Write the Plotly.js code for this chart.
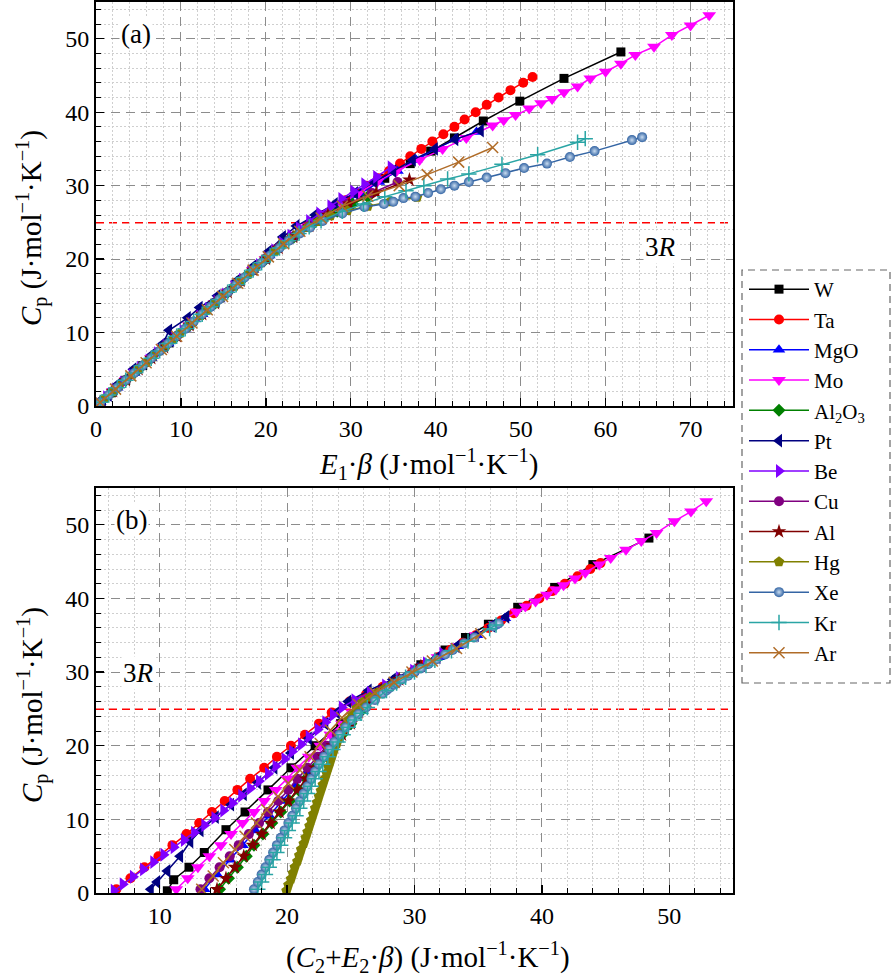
<!DOCTYPE html>
<html>
<head>
<meta charset="utf-8">
<script src="https://cdn.plot.ly/plotly-3.0.1.min.js"></script>
<style>html,body{margin:0;padding:0;background:#fff;}#chart{width:892px;height:980px;}</style>
</head>
<body>
<div id="chart"></div>
<script>
// ---------------- data (Cp, panel-a abscissa E1·β, panel-b abscissa C2+E2·β) ----------------
const W_cp = [0.3, 1.8, 3.5, 5.5, 8.6, 11, 14, 17, 20, 23, 25, 27, 29, 31, 33, 34.7, 36.5, 38.8, 41.5, 44.6, 48.2];
const W_xa = [0.3, 1.8, 3.5, 5.5, 8.6, 11, 14, 17, 20, 23.2, 25.5, 28, 31, 34, 37, 39.4, 42.2, 45.6, 49.9, 55.1, 61.8];
const W_xb = [10.6, 11.1, 12.3, 13.5, 15.2, 16.7, 18.5, 20.3, 22.2, 24.2, 25.6, 26.8, 28.6, 30.5, 32.4, 34.0, 35.8, 38.1, 41.0, 44.0, 48.4];

const Ta_cp = [0.5, 2, 3.5, 5, 6.5, 8, 9.5, 11, 12.5, 14, 15.5, 17, 18.5, 20, 21.5, 23, 24.5, 26, 27, 28, 29, 30, 31, 32, 33, 34, 35, 36, 37, 38, 39, 40, 41, 42, 43, 44, 44.8];
const Ta_xa = [0.5, 2, 3.5, 5, 6.5, 8, 9.5, 11, 12.5, 14, 15.5, 17, 18.5, 20, 21.4, 23.1, 24.8, 26.8, 28.1, 29.4, 30.6, 31.9, 33.2, 34.5, 35.8, 37.0, 38.3, 39.6, 40.9, 42.2, 43.4, 44.7, 46.0, 47.4, 48.8, 50.3, 51.4];
const Ta_xb = [6.6, 7.7, 8.8, 9.9, 11.0, 12.1, 13.1, 14.1, 15.1, 16.1, 17.1, 18.2, 19.2, 20.3, 21.4, 22.5, 23.5, 24.9, 26.2, 27.5, 28.7, 29.8, 30.8, 31.8, 32.8, 33.8, 34.8, 35.8, 36.8, 37.8, 38.8, 39.8, 40.8, 41.8, 42.8, 43.8, 44.6];

const MgO_cp = [0.5, 2.5, 4.5, 6.5, 8.5, 10.5, 12.5, 14.5, 16.5, 18.5, 20.5, 22.5, 24.5, 26, 27.5, 29, 30.5, 32, 33.5, 35, 36.3, 37.3];
const MgO_xa = [0.5, 2.5, 4.5, 6.5, 8.5, 10.5, 12.5, 14.5, 16.5, 18.5, 20.4, 22.6, 25.0, 27.0, 29.1, 31.2, 33.3, 35.5, 37.7, 40.0, 42.3, 44.8];
const MgO_xb = [13.5, 14.5, 15.5, 16.5, 17.5, 18.6, 19.6, 20.6, 21.6, 22.6, 23.6, 24.6, 25.5, 26.3, 27.5, 28.9, 30.4, 31.9, 33.4, 34.9, 36.2, 37.1];

const Mo_cp = [0.5, 2, 3.5, 5, 6.5, 8, 9.5, 11, 12.5, 14, 15.5, 17, 18.5, 20, 21.5, 23, 24.5, 26, 27.5, 29, 30.5, 32, 33.5, 35, 36.5, 38.2, 38.9, 39.6, 40.5, 41.2, 41.8, 42.7, 43.5, 44.6, 45.5, 46.6, 47.8, 48.9, 50.5, 51.8, 53.2];
const Mo_xa = [0.5, 2, 3.5, 5, 6.5, 8, 9.5, 11, 12.5, 14, 15.5, 17, 18.5, 20, 21.4, 23.2, 24.9, 26.9, 28.9, 30.9, 33.1, 35.4, 38.1, 40.8, 43.6, 46.7, 48.0, 49.4, 51.0, 52.4, 53.7, 55.1, 56.7, 58.2, 60.0, 61.8, 63.5, 65.7, 67.8, 70.0, 72.2];
const Mo_xb = [11.3, 12.2, 13.0, 13.9, 14.8, 15.6, 16.5, 17.4, 18.2, 19.1, 20.0, 20.8, 21.7, 22.6, 23.4, 24.3, 25.1, 26.1, 27.4, 28.8, 30.3, 31.8, 33.3, 34.8, 36.3, 38.0, 38.7, 39.5, 40.4, 41.1, 41.7, 42.6, 43.4, 44.5, 45.4, 46.6, 47.8, 49.0, 50.4, 51.7, 52.9];

const Al2O3_cp = [0.5, 2, 3.5, 5, 6.5, 8, 9.5, 11, 12.5, 14, 15.5, 17, 18.5, 20, 21.5, 23, 24.5, 25.5, 26.5, 27.5, 28.5];
const Al2O3_xa = [0.5, 2, 3.5, 5, 6.5, 8, 9.5, 11, 12.5, 14, 15.5, 17, 18.5, 20, 21.5, 23.3, 25.3, 26.8, 28.4, 30.2, 32.0];
const Al2O3_xb = [14.7, 15.4, 16.1, 16.8, 17.4, 18.1, 18.8, 19.5, 20.2, 20.9, 21.5, 22.2, 22.9, 23.6, 24.3, 25.0, 25.7, 26.1, 26.7, 27.5, 28.4];

const Pt_cp = [0.5, 1.5, 3, 5, 7, 8.5, 10.3, 12, 13.4, 15, 17, 19, 21, 23, 24.5, 26, 27.5, 29, 30.5, 32, 33.5, 35, 36.3, 37.5];
const Pt_xa = [0.8, 1.5, 2.6, 4.4, 6.6, 7.9, 8.6, 10.8, 12.2, 14.3, 16.5, 18.5, 20.3, 22.0, 23.6, 25.8, 28.1, 30.5, 32.8, 35.0, 37.3, 39.9, 42.3, 45.3];
const Pt_xb = [9.3, 9.8, 10.6, 11.6, 12.4, 13.2, 14.4, 15.6, 16.6, 17.7, 19.0, 20.3, 21.7, 23.0, 23.9, 24.8, 26.4, 28.3, 30.1, 31.8, 33.3, 34.8, 36.1, 37.2];

const Be_cp = [0.3, 1.2, 2.2, 3.2, 4.2, 5.2, 6.2, 7.2, 8.2, 9.2, 10.2, 11.2, 12.2, 13.2, 14.2, 15.2, 16.2, 17.2, 18.2, 19.2, 20.2, 21.2, 22.2, 23.2, 24.2, 25.2, 26.2, 27.2, 28.2, 29.2, 30.2, 31.2, 32.5];
const Be_xa = [0.3, 1.2, 2.2, 3.2, 4.2, 5.2, 6.2, 7.2, 8.2, 9.2, 10.2, 11.2, 12.2, 13.2, 14.2, 15.2, 16.2, 17.2, 18.2, 19.2, 20.1, 21.0, 21.9, 22.9, 23.9, 25.1, 26.3, 27.6, 28.9, 30.3, 31.6, 33.0, 34.7];
const Be_xb = [6.4, 7.1, 7.9, 8.7, 9.5, 10.3, 11.1, 11.9, 12.7, 13.5, 14.3, 15.0, 15.7, 16.4, 17.1, 17.8, 18.5, 19.1, 19.8, 20.4, 21.1, 21.7, 22.4, 23.0, 23.6, 24.3, 25.3, 26.5, 27.7, 28.8, 29.9, 30.9, 32.2];

const Cu_cp = [0.5, 2, 3.5, 5, 6.5, 8, 9.5, 11, 12.5, 14, 15.5, 17, 18.5, 20, 21.5, 23, 24.5, 26, 27.5, 29, 30.5];
const Cu_xa = [0.5, 2, 3.5, 5, 6.5, 8, 9.5, 11, 12.5, 14, 15.5, 17, 18.5, 20, 21.5, 23.2, 25.1, 27.3, 29.6, 32.5, 35.5];
const Cu_xb = [13.2, 13.9, 14.7, 15.5, 16.2, 17.0, 17.8, 18.5, 19.3, 20.1, 20.8, 21.6, 22.4, 23.1, 23.9, 24.7, 25.4, 26.2, 27.4, 28.8, 30.3];

const Al_cp = [0.5, 2, 3.5, 5, 6.5, 8, 9.5, 11, 12.5, 14, 15.5, 17, 18.5, 20, 21.5, 23, 24.5, 26, 27.5, 29, 30.8];
const Al_xa = [0.5, 2, 3.5, 5, 6.5, 8, 9.5, 11, 12.5, 14, 15.5, 17, 18.5, 20, 21.5, 23.2, 25.1, 27.3, 29.8, 33.0, 36.9];
const Al_xb = [14.5, 15.2, 15.9, 16.6, 17.3, 18.0, 18.7, 19.4, 20.1, 20.8, 21.5, 22.2, 22.9, 23.6, 24.3, 25.0, 25.6, 26.3, 27.4, 28.8, 30.5];

const Hg_cp = [0.3, 1.1, 1.9, 2.7, 3.5, 4.3, 5.1, 5.9, 6.7, 7.5, 8.3, 9.1, 9.9, 10.7, 11.5, 12.3, 13.1, 13.9, 14.7, 15.5, 16.3, 17.1, 17.9, 18.7, 19.5, 20.3, 21.1, 21.9, 22.7, 23.5, 24.3, 25.1, 25.9, 26.6, 27.2, 27.8, 28.4];
const Hg_xa = [0.3, 1.1, 1.9, 2.7, 3.5, 4.3, 5.1, 5.9, 6.7, 7.5, 8.3, 9.1, 9.9, 10.7, 11.5, 12.3, 13.1, 13.9, 14.7, 15.5, 16.3, 17.1, 17.9, 18.7, 19.5, 20.3, 21.1, 21.9, 22.8, 23.8, 24.9, 26.1, 27.6, 29.6, 32.0, 34.6, 37.8];
const Hg_xb = [19.95, 20.1, 20.3, 20.45, 20.6, 20.8, 20.95, 21.1, 21.3, 21.45, 21.6, 21.75, 21.9, 22.05, 22.2, 22.35, 22.5, 22.65, 22.8, 22.95, 23.1, 23.25, 23.4, 23.55, 23.7, 23.9, 24.1, 24.3, 24.55, 24.8, 25.1, 25.45, 25.9, 26.5, 27.1, 27.7, 28.3];

const Xe_cp = [0.5, 1.5, 2.5, 3.5, 4.5, 5.5, 6.5, 7.5, 8.5, 9.5, 10.5, 11.5, 12.5, 13.5, 14.5, 15.5, 16.5, 17.5, 18.5, 19.5, 20.5, 21.5, 22.5, 23.5, 24.3, 25.2, 26.2, 27.1, 27.5, 27.8, 28.3, 28.5, 29.0, 29.5, 30.0, 30.5, 31.1, 31.7, 32.4, 33.0, 33.9, 34.7, 36.2, 36.6];
const Xe_xa = [0.5, 1.5, 2.5, 3.5, 4.5, 5.5, 6.5, 7.5, 8.5, 9.5, 10.5, 11.5, 12.5, 13.5, 14.5, 15.5, 16.5, 17.5, 18.5, 19.5, 20.5, 21.6, 22.7, 24.0, 25.2, 26.7, 29.0, 31.6, 33.9, 35.0, 36.2, 37.6, 39.1, 40.6, 42.2, 43.9, 46.0, 48.2, 50.4, 53.1, 55.8, 58.7, 63.1, 64.3];
const Xe_xb = [17.4, 17.7, 18.0, 18.3, 18.6, 18.9, 19.2, 19.5, 19.8, 20.1, 20.4, 20.7, 21.0, 21.3, 21.6, 21.9, 22.2, 22.5, 22.9, 23.3, 23.7, 24.1, 24.6, 25.1, 25.6, 26.2, 26.9, 27.5, 27.8, 28.0, 28.4, 28.6, 29.0, 29.5, 30.0, 30.5, 31.1, 31.7, 32.4, 33.0, 33.9, 34.7, 36.2, 36.6];

const Kr_cp = [0.5, 1.5, 2.5, 3.5, 4.5, 5.5, 6.5, 7.5, 8.5, 9.5, 10.5, 11.5, 12.5, 13.5, 14.5, 15.5, 16.5, 17.5, 18.5, 19.5, 20.5, 21.5, 22.5, 23.5, 24.4, 25.2, 26.5, 27.5, 28.5, 29.3, 30.0, 30.9, 31.6, 32.9, 34.2, 35.9, 36.4];
const Kr_xa = [0.5, 1.5, 2.5, 3.5, 4.5, 5.5, 6.5, 7.5, 8.5, 9.5, 10.5, 11.5, 12.5, 13.5, 14.5, 15.5, 16.5, 17.5, 18.5, 19.5, 20.5, 21.6, 22.7, 23.9, 25.1, 26.5, 29.0, 31.5, 34.0, 36.5, 38.6, 41.4, 43.9, 47.8, 52.0, 56.7, 57.6];
const Kr_xb = [17.7, 18.0, 18.3, 18.6, 18.9, 19.2, 19.5, 19.8, 20.1, 20.4, 20.7, 21.0, 21.3, 21.6, 21.9, 22.2, 22.5, 22.8, 23.2, 23.6, 24.0, 24.4, 24.8, 25.3, 25.8, 26.3, 27.1, 27.8, 28.6, 29.3, 30.0, 30.9, 31.6, 32.9, 34.2, 35.9, 36.4];

const Ar_cp = [0.5, 2.3, 4.1, 5.9, 7.7, 9.5, 11.3, 13.1, 14.9, 16.7, 18.5, 20.3, 22.1, 23.8, 25.6, 27.2, 28.6, 30.0, 31.5, 33.2, 35.2];
const Ar_xa = [0.5, 2.3, 4.1, 5.9, 7.7, 9.5, 11.3, 13.1, 14.9, 16.7, 18.5, 20.3, 22.1, 24.0, 26.5, 29.0, 32.0, 35.7, 39.0, 42.7, 46.7];
const Ar_xb = [13.3, 14.2, 15.0, 15.9, 16.7, 17.6, 18.4, 19.3, 20.1, 21.0, 21.8, 22.6, 23.4, 24.3, 25.6, 26.9, 28.4, 29.8, 31.4, 33.3, 35.2];

const names = ['W', 'Ta', 'MgO', 'Mo', 'Al<sub>2</sub>O<sub>3</sub>', 'Pt', 'Be', 'Cu', 'Al', 'Hg', 'Xe', 'Kr', 'Ar'];
const threeR = 24.94;

// ---------------- styling ----------------
const series = [
  {cp: W_cp, xa: W_xa, xb: W_xb, color: '#000000', symbol: 'square', size: 9},
  {cp: Ta_cp, xa: Ta_xa, xb: Ta_xb, color: '#ff0000', symbol: 'circle', size: 10},
  {cp: MgO_cp, xa: MgO_xa, xb: MgO_xb, color: '#0000ff', symbol: 'triangle-up', size: 11},
  {cp: Mo_cp, xa: Mo_xa, xb: Mo_xb, color: '#ff00ff', symbol: 'triangle-down', size: 12},
  {cp: Al2O3_cp, xa: Al2O3_xa, xb: Al2O3_xb, color: '#008000', symbol: 'diamond', size: 10},
  {cp: Pt_cp, xa: Pt_xa, xb: Pt_xb, color: '#000080', symbol: 'triangle-left', size: 12},
  {cp: Be_cp, xa: Be_xa, xb: Be_xb, color: '#8000ff', symbol: 'triangle-right', size: 12},
  {cp: Cu_cp, xa: Cu_xa, xb: Cu_xb, color: '#800080', symbol: 'circle', size: 10},
  {cp: Al_cp, xa: Al_xa, xb: Al_xb, color: '#800000', symbol: 'star', size: 11},
  {cp: Hg_cp, xa: Hg_xa, xb: Hg_xb, color: '#808000', symbol: 'pentagon', size: 11},
  {cp: Xe_cp, xa: Xe_xa, xb: Xe_xb, color: '#3465a4', symbol: 'circle', size: 10, gradient: true},
  {cp: Kr_cp, xa: Kr_xa, xb: Kr_xb, color: '#2aa5a5', symbol: 'cross-thin-open', size: 11, thin: true},
  {cp: Ar_cp, xa: Ar_xa, xb: Ar_xb, color: '#b06c28', symbol: 'x-thin-open', size: 11, thin: true}
];

function makeMarker(s) {
  const m = {symbol: s.symbol, size: s.size, color: s.color};
  if (s.thin) m.line = {color: s.color, width: 1.5};
  else m.line = {width: 0};
  if (s.gradient) m.gradient = {type: 'radial', color: '#c9dcf0'};
  return m;
}

const traces = [];
series.forEach((s, i) => {
  traces.push({
    x: s.xa, y: s.cp, xaxis: 'x', yaxis: 'y', type: 'scatter', mode: 'lines+markers',
    name: names[i], legendgroup: 'g' + i, showlegend: true,
    line: {color: s.color, width: 1.5}, marker: makeMarker(s)
  });
});
series.forEach((s, i) => {
  traces.push({
    x: s.xb, y: s.cp, xaxis: 'x2', yaxis: 'y2', type: 'scatter', mode: 'lines+markers',
    name: names[i], legendgroup: 'g' + i, showlegend: false,
    line: {color: s.color, width: 1.5}, marker: makeMarker(s)
  });
});

const FONT = 'Liberation Serif, DejaVu Serif, serif';
function axisBase(extra) {
  return Object.assign({
    showline: true, linecolor: '#000', linewidth: 2, mirror: true,
    ticks: 'inside', ticklen: 8, tickwidth: 1.3, tickcolor: '#000',
    dtick: 10, tick0: 0,
    showgrid: true, gridcolor: '#8c8c8c', gridwidth: 1, griddash: '9px,6px',
    zeroline: false,
    tickfont: {family: FONT, size: 24, color: '#000'},
    minor: {dtick: 2, ticks: 'inside', ticklen: 5, tickwidth: 1, tickcolor: '#000',
            showgrid: true, gridcolor: '#cfcfcf', gridwidth: 1, griddash: '2px,2px'}
  }, extra);
}

const W = 892, H = 980;
const mL = 96, mR = W - 733, mT = 2, mB = H - 893;
const pw = W - mL - mR, ph = H - mT - mB;
const px = v => (v - mL) / pw;          // pixel -> paper x
const py = v => (H - mB - v) / ph;      // pixel -> paper y

const layout = {
  width: W, height: H,
  margin: {l: mL, r: mR, t: mT, b: mB},
  paper_bgcolor: '#fff', plot_bgcolor: '#fff',
  font: {family: FONT, color: '#000'},
  xaxis: axisBase({range: [0, 75], domain: [0, 1], anchor: 'y'}),
  yaxis: axisBase({range: [0, 55], domain: [py(406), 1], anchor: 'x'}),
  xaxis2: axisBase({range: [5, 55], domain: [0, 1], anchor: 'y2'}),
  yaxis2: axisBase({range: [0, 55], domain: [0, py(488)], anchor: 'x2'}),
  showlegend: true,
  legend: {
    x: px(744), y: py(269), xanchor: 'left', yanchor: 'top',
    bgcolor: 'rgba(255,255,255,0)', borderwidth: 0,
    font: {family: FONT, size: 21, color: '#000'},
    itemwidth: 60, tracegroupgap: 0, traceorder: 'normal'
  },
  shapes: [
    {type: 'line', xref: 'x domain', yref: 'y', x0: 0, x1: 1, y0: threeR, y1: threeR,
     line: {color: '#ff0000', width: 1.5, dash: '8px,5px'}, layer: 'below'},
    {type: 'line', xref: 'x2 domain', yref: 'y2', x0: 0, x1: 1, y0: threeR, y1: threeR,
     line: {color: '#ff0000', width: 1.5, dash: '8px,5px'}, layer: 'below'},
    {type: 'rect', xref: 'paper', yref: 'paper', x0: px(742), x1: px(890), y0: py(683), y1: py(270),
     line: {color: '#666', width: 1.2, dash: '7px,5px'}, fillcolor: 'rgba(0,0,0,0)'}
  ],
  annotations: [
    {text: '(a)', xref: 'x', yref: 'y', x: 4.7, y: 50.7, showarrow: false,
     font: {family: FONT, size: 27}, bgcolor: '#fff'},
    {text: '(b)', xref: 'x2', yref: 'y2', x: 7.8, y: 50.7, showarrow: false,
     font: {family: FONT, size: 27}, bgcolor: '#fff'},
    {text: '3<i>R</i>', xref: 'x', yref: 'y', x: 66.5, y: 21.6, showarrow: false,
     font: {family: FONT, size: 27}, bgcolor: '#fff'},
    {text: '3<i>R</i>', xref: 'x2', yref: 'y2', x: 8.3, y: 29.9, showarrow: false,
     font: {family: FONT, size: 27}, bgcolor: '#fff'},
    {text: '<i>C</i><sub>p</sub> (J·mol<sup>−1</sup>·K<sup>−1</sup>)', xref: 'paper', yref: 'paper',
     x: px(32), y: py(228), textangle: -90, showarrow: false, xanchor: 'center', yanchor: 'middle',
     font: {family: FONT, size: 29}},
    {text: '<i>C</i><sub>p</sub> (J·mol<sup>−1</sup>·K<sup>−1</sup>)', xref: 'paper', yref: 'paper',
     x: px(32), y: py(705), textangle: -90, showarrow: false, xanchor: 'center', yanchor: 'middle',
     font: {family: FONT, size: 29}},
    {text: '<i>E</i><sub>1</sub>·<i>β</i> (J·mol<sup>−1</sup>·K<sup>−1</sup>)', xref: 'paper', yref: 'paper',
     x: px(428), y: py(464), showarrow: false, xanchor: 'center', yanchor: 'middle',
     font: {family: FONT, size: 29}},
    {text: '(<i>C</i><sub>2</sub>+<i>E</i><sub>2</sub>·<i>β</i>) (J·mol<sup>−1</sup>·K<sup>−1</sup>)', xref: 'paper', yref: 'paper',
     x: px(428), y: py(957), showarrow: false, xanchor: 'center', yanchor: 'middle',
     font: {family: FONT, size: 29}}
  ]
};

Plotly.newPlot('chart', traces, layout, {displayModeBar: false, staticPlot: true});
</script>
</body>
</html>
